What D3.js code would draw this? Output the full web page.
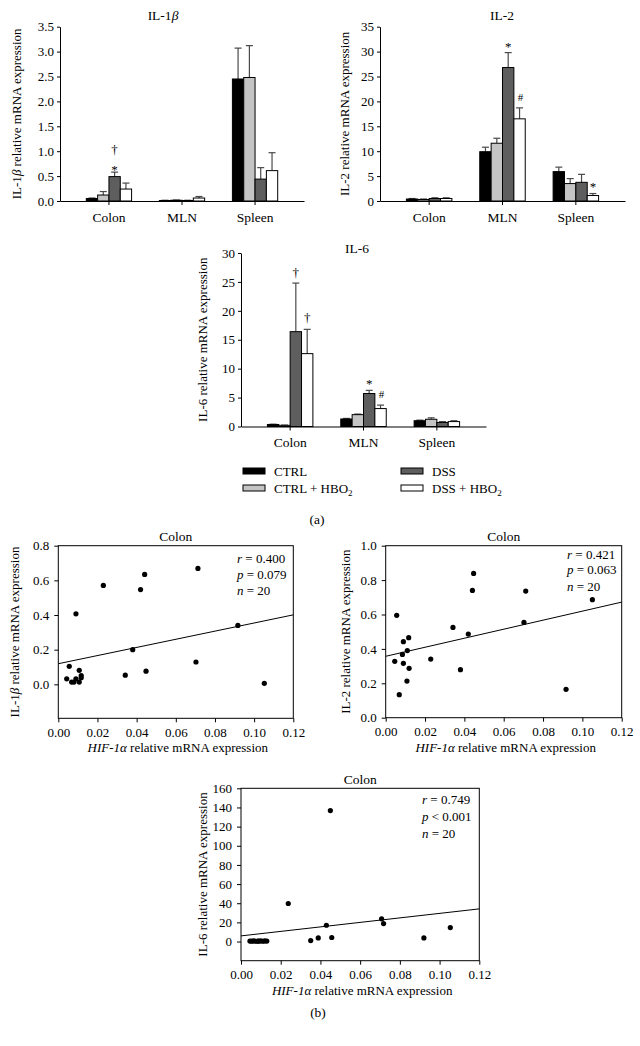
<!DOCTYPE html>
<html><head><meta charset="utf-8">
<script src="https://cdn.jsdelivr.net/npm/d3@7"></script>
<style>
body{margin:0;background:#fff}
svg{display:block}
text{font-family:"Liberation Serif","Times New Roman",serif;fill:#000}
</style>
</head><body>
<svg id="c" width="640" height="1046"></svg>
<script>
// ---------- data ----------
const categories = ["Colon", "MLN", "Spleen"];
const groups = ["CTRL", "CTRL + HBO2", "DSS", "DSS + HBO2"];
const groupColors = ["#000000", "#c4c4c4", "#5e5e5e", "#ffffff"];

// IL-1beta (rows = categories, cols = groups)
const il1bMean = [[0.05, 0.12, 0.49, 0.24], [0.01, 0.015, 0.01, 0.06], [2.45, 2.48, 0.44, 0.61]];
const il1bErr  = [[0.01, 0.07, 0.09, 0.12], [0.005, 0.005, 0.005, 0.03], [0.62, 0.64, 0.23, 0.36]];
const il1bTicks = [0, 0.5, 1.0, 1.5, 2.0, 2.5, 3.0, 3.5];
const il1bMarks = [{cat: "Colon", grp: "DSS", sym: "*", v: 0.70}, {cat: "Colon", grp: "DSS", sym: "†", v: 1.04}];

// IL-2
const il2Mean = [[0.4, 0.3, 0.5, 0.5], [9.9, 11.6, 26.8, 16.5], [5.9, 3.5, 3.75, 1.1]];
const il2Err  = [[0.1, 0.1, 0.15, 0.15], [0.9, 1.0, 3.0, 2.2], [0.9, 1.0, 1.6, 0.4]];
const il2Ticks = [0, 5, 10, 15, 20, 25, 30, 35];
const il2Marks = [{cat: "MLN", grp: "DSS", sym: "*", v: 31.7}, {cat: "MLN", grp: "DSS + HBO2", sym: "#", v: 20.9}, {cat: "Spleen", grp: "DSS + HBO2", sym: "*", v: 3.7}];

// IL-6
const il6Mean = [[0.35, 0.2, 16.4, 12.6], [1.3, 2.05, 5.7, 3.1], [1.0, 1.25, 0.7, 0.85]];
const il6Err  = [[0.05, 0.05, 8.4, 4.2], [0.1, 0.1, 0.55, 0.6], [0.1, 0.25, 0.15, 0.15]];
const il6Ticks = [0, 5, 10, 15, 20, 25, 30];
const il6Marks = [{cat: "Colon", grp: "DSS", sym: "†", v: 26.7}, {cat: "Colon", grp: "DSS + HBO2", sym: "†", v: 18.8}, {cat: "MLN", grp: "DSS", sym: "*", v: 8.0}, {cat: "MLN", grp: "DSS + HBO2", sym: "#", v: 5.6}];

// Scatter plots (HIF-1alpha vs cytokine, colon, n = 20)
const hifX1 = [0.0043, 0.0056, 0.0068, 0.0080, 0.0090, 0.0090, 0.0107, 0.0107, 0.0117, 0.0117, 0.0230, 0.0342, 0.0380, 0.0420, 0.0441, 0.0448, 0.0703, 0.0713, 0.0917, 0.1052];
const il1bY  = [0.032, 0.104, 0.013, 0.013, 0.407, 0.032, 0.081, 0.013, 0.051, 0.038, 0.571, 0.053, 0.200, 0.547, 0.634, 0.076, 0.129, 0.669, 0.340, 0.006];
const fit1 = [0.119, 0.401];

const hifX2 = [0.0046, 0.0056, 0.0069, 0.0085, 0.0090, 0.0090, 0.0108, 0.0110, 0.0117, 0.0119, 0.0229, 0.0342, 0.0380, 0.0420, 0.0441, 0.0447, 0.0703, 0.0712, 0.0917, 0.1051];
const il2Y   = [0.328, 0.595, 0.134, 0.368, 0.442, 0.316, 0.213, 0.390, 0.465, 0.287, 0.341, 0.525, 0.279, 0.486, 0.740, 0.839, 0.554, 0.736, 0.165, 0.686];
const fit2 = [0.357, 0.672];

const hifX3 = [0.0045, 0.0055, 0.0065, 0.0075, 0.0085, 0.0090, 0.0100, 0.0110, 0.0120, 0.0130, 0.0238, 0.0351, 0.0389, 0.0430, 0.0450, 0.0457, 0.0708, 0.0718, 0.0921, 0.1054];
const il6Y   = [0.5, 0.4, 0.6, 0.3, 0.5, 0.4, 0.7, 0.3, 0.6, 0.5, 39.7, 1.0, 3.8, 17.0, 136.7, 4.2, 23.7, 18.8, 3.8, 14.6];
const fit3 = [5.9, 34.1];

const hifTicks = [0, 0.02, 0.04, 0.06, 0.08, 0.10, 0.12];

// ---------- drawing ----------
const svg = d3.select("#c");
const FS = 13;

function styleAxis(sel) {
  sel.selectAll("path.domain").attr("stroke", "#000").attr("stroke-width", 1);
  sel.selectAll(".tick line").attr("stroke", "#000");
  sel.selectAll(".tick text").style("font-family", '"Liberation Serif",serif').style("font-size", FS + "px").attr("fill", "#000");
}

function yLabel(x, yc, parts) {
  const t = svg.append("text").attr("transform", `translate(${x},${yc}) rotate(-90)`)
    .attr("text-anchor", "middle").style("font-size", FS + "px");
  parts.forEach(p => t.append("tspan").text(p[0]).style("font-style", p[1] ? "italic" : null));
}

function barChart(o) {
  const g = svg.append("g");
  const y = d3.scaleLinear().domain([0, o.ticks[o.ticks.length - 1]]).range([o.yb, o.yt]);
  const x = d3.scaleBand().domain(categories).range([o.x0, o.x1]).paddingInner(0).paddingOuter(0.17);
  const gw = x.bandwidth() * 0.62;
  const xi = d3.scaleBand().domain(groups).range([0, gw]);

  categories.forEach((c, ci) => {
    const gx = x(c) + (x.bandwidth() - gw) / 2;
    groups.forEach((gname, gi) => {
      const m = o.mean[ci][gi], e = o.err[ci][gi];
      const bx = gx + xi(gname), bw = xi.bandwidth();
      const cx = bx + bw / 2;
      g.append("line").attr("x1", cx).attr("x2", cx).attr("y1", y(m)).attr("y2", y(m + e)).attr("stroke", "#4a4a4a").attr("stroke-width", 1.2);
      g.append("line").attr("x1", cx - 3.5).attr("x2", cx + 3.5).attr("y1", y(m + e)).attr("y2", y(m + e)).attr("stroke", "#4a4a4a").attr("stroke-width", 1.2);
      g.append("rect").attr("x", bx).attr("y", y(m)).attr("width", bw).attr("height", Math.max(0, y(0) - y(m)))
        .attr("fill", groupColors[gi]).attr("stroke", "#000").attr("stroke-width", 1);
    });
  });
  o.marks.forEach(mk => {
    const gx = x(mk.cat) + (x.bandwidth() - gw) / 2 + xi(mk.grp) + xi.bandwidth() / 2;
    g.append("text").attr("x", gx + (mk.sym === "#" ? 1 : 0)).attr("y", y(mk.v)).attr("dy", mk.sym === "*" ? "0.62em" : "0.35em")
      .attr("text-anchor", "middle").style("font-size", (mk.sym === "#" ? 11 : 13) + "px").text(mk.sym);
  });

  const ya = g.append("g").attr("transform", `translate(${o.x0},0)`)
    .call(d3.axisLeft(y).tickValues(o.ticks).tickFormat(o.fmt).tickSize(3).tickSizeOuter(0).tickPadding(3));
  styleAxis(ya);
  const xa = g.append("g").attr("transform", `translate(0,${o.yb})`)
    .call(d3.axisBottom(x).tickSize(4).tickSizeOuter(0).tickPadding(7));
  styleAxis(xa);
  xa.selectAll(".tick text").style("font-size", "13.5px");

  const t = svg.append("text").attr("x", o.tx).attr("y", o.ty).attr("text-anchor", "middle").style("font-size", "13.5px");
  o.title.forEach(p => t.append("tspan").text(p[0]).style("font-style", p[1] ? "italic" : null));
  yLabel(o.lx, (o.yb + o.yt) / 2, o.ylabel);
}

barChart({x0: 60, x1: 304, yb: 201, yt: 26.7, ticks: il1bTicks, fmt: d3.format(".1f"),
  mean: il1bMean, err: il1bErr, marks: il1bMarks, tx: 163, ty: 19.5,
  title: [["IL-1", false], ["β", true]], lx: 21, ylabel: [["IL-1", false], ["β", true], [" relative mRNA expression", false]]});
barChart({x0: 380, x1: 625, yb: 201, yt: 26.7, ticks: il2Ticks, fmt: d3.format("d"),
  mean: il2Mean, err: il2Err, marks: il2Marks, tx: 502, ty: 19.5,
  title: [["IL-2", false]], lx: 349, ylabel: [["IL-2 relative mRNA expression", false]]});
barChart({x0: 241, x1: 486, yb: 426.5, yt: 253, ticks: il6Ticks, fmt: d3.format("d"),
  mean: il6Mean, err: il6Err, marks: il6Marks, tx: 357, ty: 252.5,
  title: [["IL-6", false]], lx: 207, ylabel: [["IL-6 relative mRNA expression", false]]});

// legend
const legPos = [[243, 471], [243, 488], [401, 471], [401, 488]];
groups.forEach((gname, gi) => {
  const [lx, ly] = legPos[gi];
  svg.append("rect").attr("x", lx).attr("y", ly - 3).attr("width", 22).attr("height", 6)
    .attr("fill", groupColors[gi]).attr("stroke", "#000").attr("stroke-width", 1);
  const t = svg.append("text").attr("x", lx + 31).attr("y", ly + 4.5).style("font-size", "13px");
  if (gname.endsWith("HBO2")) {
    t.append("tspan").text(gname.slice(0, -1));
    t.append("tspan").text("2").attr("dy", 3).style("font-size", "9px");
  } else t.text(gname);
});
svg.append("text").attr("x", 317).attr("y", 523.5).attr("text-anchor", "middle").style("font-size", "13.5px").text("(a)");

function scatter(o) {
  const g = svg.append("g");
  const x = d3.scaleLinear().domain([0, 0.12]).range([o.x0, o.x1]);
  const y = d3.scaleLinear().domain(o.ydom).range([o.yb, o.yt]);
  g.append("rect").attr("x", o.x0).attr("y", o.yt).attr("width", o.x1 - o.x0).attr("height", o.yb - o.yt)
    .attr("fill", "none").attr("stroke", "#000").attr("stroke-width", 1);
  const ya = g.append("g").attr("transform", `translate(${o.x0},0)`)
    .call(d3.axisLeft(y).tickValues(o.yticks).tickFormat(o.fmt).tickSize(4).tickSizeOuter(0).tickPadding(5));
  ya.select("path.domain").remove();
  styleAxis(ya);
  const xa = g.append("g").attr("transform", `translate(0,${o.yb})`)
    .call(d3.axisBottom(x).tickValues(hifTicks).tickFormat(d3.format(".2f")).tickSize(4).tickSizeOuter(0).tickPadding(5));
  xa.select("path.domain").remove();
  styleAxis(xa);
  g.append("line").attr("x1", x(0)).attr("y1", y(o.fit[0])).attr("x2", x(0.12)).attr("y2", y(o.fit[1]))
    .attr("stroke", "#000").attr("stroke-width", 1);
  g.selectAll("circle.p").data(o.xs.map((v, i) => [v, o.ys[i]])).enter().append("circle")
    .attr("cx", d => x(d[0])).attr("cy", d => y(d[1])).attr("r", 2.6).attr("fill", "#000");
  svg.append("text").attr("x", (o.x0 + o.x1) / 2).attr("y", o.yt - 4.5).attr("text-anchor", "middle").style("font-size", "13.5px").text("Colon");
  o.stats.forEach((s, i) => {
    const t = svg.append("text").attr("x", o.sx).attr("y", o.sy[i]).style("font-size", FS + "px");
    t.append("tspan").text(s[0]).style("font-style", "italic");
    t.append("tspan").text(s[1]);
  });
  const xl = svg.append("text").attr("x", (o.x0 + o.x1) / 2 + 2).attr("y", o.yb + 34).attr("text-anchor", "middle").style("font-size", FS + "px");
  xl.append("tspan").text("HIF-1α").style("font-style", "italic");
  xl.append("tspan").text(" relative mRNA expression");
  yLabel(o.lx, (o.yb + o.yt) / 2, o.ylabel);
}

scatter({x0: 58.3, x1: 293.3, yb: 718.3, yt: 545.7, ydom: [-0.196, 0.8], yticks: [0, 0.2, 0.4, 0.6, 0.8], fmt: d3.format(".1f"),
  xs: hifX1, ys: il1bY, fit: fit1, sx: 237, sy: [562.5, 578.5, 595],
  stats: [["r", " = 0.400"], ["p", " = 0.079"], ["n", " = 20"]], lx: 19,
  ylabel: [["IL-1", false], ["β", true], [" relative mRNA expression", false]]});
scatter({x0: 385.7, x1: 621.7, yb: 717.7, yt: 545.7, ydom: [0, 1.0], yticks: [0, 0.2, 0.4, 0.6, 0.8, 1.0], fmt: d3.format(".1f"),
  xs: hifX2, ys: il2Y, fit: fit2, sx: 567, sy: [558.5, 573.5, 590.5],
  stats: [["r", " = 0.421"], ["p", " = 0.063"], ["n", " = 20"]], lx: 350,
  ylabel: [["IL-2 relative mRNA expression", false]]});
scatter({x0: 241, x1: 479.3, yb: 960.7, yt: 788.3, ydom: [-20, 160], yticks: [0, 20, 40, 60, 80, 100, 120, 140, 160], fmt: d3.format("d"),
  xs: hifX3, ys: il6Y, fit: fit3, sx: 422, sy: [803.5, 821, 837.5],
  stats: [["r", " = 0.749"], ["p", " < 0.001"], ["n", " = 20"]], lx: 207,
  ylabel: [["IL-6 relative mRNA expression", false]]});
svg.append("text").attr("x", 318).attr("y", 1016.5).attr("text-anchor", "middle").style("font-size", "13.5px").text("(b)");
</script>
</body></html>
